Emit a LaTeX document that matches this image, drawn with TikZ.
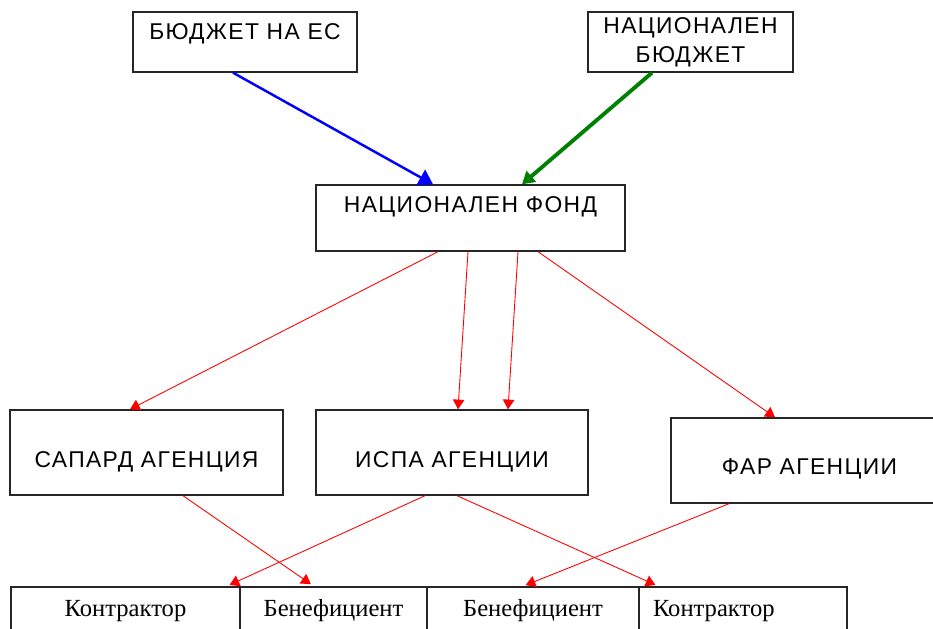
\documentclass[tikz,border=0pt]{standalone}
\usepackage{fontspec}
\setmainfont{Liberation Serif}
\newfontfamily\boxfont[LetterSpace=6]{Liberation Sans}
\usetikzlibrary{positioning,arrows.meta}

\tikzset{
    box/.style={draw=black!85, line width=0.8pt, rectangle, inner sep=0pt, font=\boxfont\fontsize{13}{16.5}\selectfont},
    cell/.style={draw=black!85, line width=0.8pt, rectangle, inner sep=0pt, outer sep=0pt, font=\fontsize{14}{16}\selectfont, text height=0.58cm, text depth=0.54cm},
    flow/.style={red, line width=0.5pt, -{Triangle[length=5.5pt,width=6.5pt]}},
}

\begin{document}
\begin{tikzpicture}
            \useasboundingbox (0,0) rectangle (18.66,12.56);
            \clip (0,0) rectangle (18.66,12.56);

            \node (fund) [box, minimum width=6.18cm, text height=0.56cm, text depth=0.76cm] at (9.41,8.2) {НАЦИОНАЛЕН ФОНД};
            \node (eu) [box, above of=fund, node distance=3.52cm, xshift=-4.51cm, minimum width=4.48cm, text height=0.56cm, text depth=0.64cm] {БЮДЖЕТ НА ЕС};
            \node (nat) [box, above of=fund, node distance=3.52cm, xshift=4.40cm, minimum width=4.10cm, minimum height=1.2cm, align=center] {НАЦИОНАЛЕН\\БЮДЖЕТ};
            \node (ispa) [box, below of=fund, node distance=4.69cm, xshift=-0.37cm, minimum width=5.44cm, text height=1.14cm, text depth=0.56cm] {ИСПА АГЕНЦИИ};
            \node (sapard) [box, left of=ispa, node distance=6.11cm, minimum width=5.46cm, text height=1.14cm, text depth=0.56cm] {САПАРД АГЕНЦИЯ};
            \node (far) [box, right of=ispa, node distance=7.15cm, yshift=-0.16cm, minimum width=5.54cm, text height=1.12cm, text depth=0.58cm] {ФАР АГЕНЦИИ};
            \node (kon1) [cell, below of=sapard, node distance=3.25cm, xshift=-0.42cm, minimum width=4.58cm] {Контрактор};
            \node (ben1) [cell, right=0pt of kon1, minimum width=3.74cm] {Бенефициент};
            \node (ben2) [cell, right=0pt of ben1, minimum width=4.24cm] {Бенефициент};
            \node (kon2) [cell, right=0pt of ben2, inner xsep=0.28cm, text width=3.6cm, align=left] {Контрактор};

            \draw[blue, line width=1.4pt, -{Triangle[length=8pt,width=10pt]}] ([xshift=-0.24cm]eu.south) -- ([xshift=-0.75cm]fund.north);
            \draw[green!50!black, line width=2.2pt, -{Triangle[length=7pt,width=8pt]}] ([xshift=-0.77cm]nat.south) -- ([xshift=1.03cm]fund.north);
            \draw[flow] ([xshift=-0.65cm]fund.south) -- ([xshift=-0.33cm]sapard.north);
            \draw[flow] ([xshift=-0.05cm]fund.south) -- ([xshift=0.12cm]ispa.north);
            \draw[flow] ([xshift=0.95cm]fund.south) -- ([xshift=1.12cm]ispa.north);
            \draw[flow] ([xshift=1.35cm]fund.south) -- ([xshift=-0.69cm]far.north);
            \draw[flow, shorten >=0.1cm] ([xshift=0.73cm]sapard.south) -- ([xshift=-0.37cm]ben1.north);
            \draw[flow, shorten >=0.1cm] ([xshift=-0.54cm]ispa.south) -- ([xshift=1.99cm]kon1.north);
            \draw[flow, shorten >=0.1cm] ([xshift=0.10cm]ispa.south) -- ([xshift=-1.66cm]kon2.north);
            \draw[flow, shorten >=0.1cm] ([xshift=-1.61cm]far.south) -- ([xshift=-0.24cm]ben2.north);
\end{tikzpicture}
\end{document}
